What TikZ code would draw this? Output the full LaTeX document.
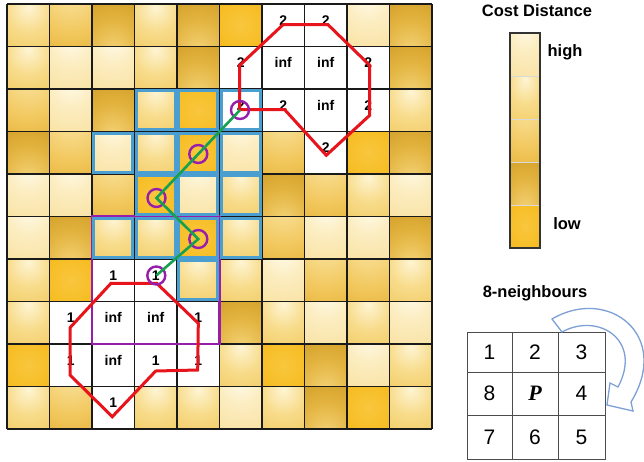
\documentclass[tikz,border=0pt]{standalone}
\usepackage{fontspec}
\setmainfont{Liberation Sans}
\newfontfamily\pserif{Liberation Serif}
\definecolor{aA}{HTML}{FFFBEB}\definecolor{aB}{HTML}{FCEDC0}\definecolor{aC}{HTML}{F5D683}
\definecolor{bA}{HTML}{FEF5D4}\definecolor{bB}{HTML}{F8DC8C}\definecolor{bC}{HTML}{ECBD40}
\definecolor{cA}{HTML}{FAE6A6}\definecolor{cB}{HTML}{F2C85E}\definecolor{cC}{HTML}{D99E15}
\definecolor{dA}{HTML}{F5D47A}\definecolor{dB}{HTML}{E3B440}\definecolor{dC}{HTML}{C38F16}
\definecolor{eA}{HTML}{F9C73E}\definecolor{eB}{HTML}{F5B91A}\definecolor{eC}{HTML}{EDAC0E}
\definecolor{gridc}{HTML}{1A1A1A}
\definecolor{bluec}{RGB}{74,158,208}
\definecolor{purpc}{RGB}{150,30,170}
\definecolor{redc}{RGB}{232,20,28}
\definecolor{greenc}{RGB}{22,160,80}
\definecolor{arrc}{RGB}{125,160,214}
\pgfdeclareradialshading{shA}{\pgfpoint{0bp}{35bp}}{color(0bp)=(aA); color(25bp)=(aB); color(85bp)=(aC); color(120bp)=(aC)}
\pgfdeclareradialshading{shB}{\pgfpoint{0bp}{22bp}}{color(0bp)=(bA); color(25bp)=(bB); color(75bp)=(bC); color(120bp)=(bC)}
\pgfdeclareradialshading{shC}{\pgfpoint{0bp}{45bp}}{color(0bp)=(cA); color(40bp)=(cB); color(90bp)=(cC); color(130bp)=(cC)}
\pgfdeclareradialshading{shD}{\pgfpoint{0bp}{-32bp}}{color(0bp)=(dA); color(30bp)=(dB); color(75bp)=(dC); color(120bp)=(dC)}
\pgfdeclareradialshading{shE}{\pgfpoint{0bp}{0bp}}{color(0bp)=(eA); color(40bp)=(eB); color(70bp)=(eC); color(110bp)=(eC)}
\begin{document}
\begin{tikzpicture}[x=1pt,y=-1pt,
  cellA/.style={shade,shading=shA},
  cellB/.style={shade,shading=shB},
  cellC/.style={shade,shading=shC},
  cellD/.style={shade,shading=shD},
  cellE/.style={shade,shading=shE},
  cellW/.style={fill=white},
  gridline/.style={draw=gridc,line width=1.4pt},
  cellnum/.style={font=\fontsize{14}{16}\selectfont\bfseries,inner sep=0pt},
  bluebox/.style={draw=bluec,line width=3pt},
  purpbox/.style={draw=purpc,line width=2.5pt},
  redpoly/.style={draw=redc,line width=3pt,line join=miter},
  pathpt/.style={circle,draw=purpc,line width=2.4pt,minimum size=18pt,inner sep=0pt},
  greenpath/.style={draw=greenc,line width=2.6pt},
  legtext/.style={font=\fontsize{16.5}{18}\selectfont\bfseries,inner sep=0pt},
  nbnum/.style={font=\fontsize{21}{23}\selectfont,inner sep=0pt},
  nbline/.style={draw=black!70,line width=1pt},
  curvarrow/.style={draw=arrc,line width=1.3pt,line join=miter}
]
\useasboundingbox (0,0) rectangle (644,461);
\fill[white] (0,0) rectangle (644,461);
% cells
\foreach \r/\lst in {0/{B,C,D,B,D,E,W,W,A,D},1/{B,A,A,B,D,W,W,W,W,D},2/{C,A,D,B,E,W,W,W,W,B},3/{D,C,A,B,E,A,C,W,E,D},4/{A,A,C,E,A,B,D,C,B,A},5/{A,D,B,B,E,B,C,A,A,D},6/{B,E,W,W,B,B,A,C,C,B},7/{B,W,W,W,W,D,B,A,B,A},8/{E,W,W,W,W,B,E,D,A,B},9/{B,C,W,B,B,A,B,D,E,B}}{
  \foreach \t [count=\ci from 0] in \lst {
    \path[cell\t] ({7+42.5*\ci},{4+42.5*\r}) rectangle ++(42.5,42.5);
  }
}
% grid
\foreach \i in {0,...,10}{
  \draw[gridline] ({7+42.5*\i},4) -- ({7+42.5*\i},429);
  \draw[gridline] (7,{4+42.5*\i}) -- (432,{4+42.5*\i});
}
% numbers
\foreach \r/\ci/\txt [count=\k] in {0/6/2,0/7/2,1/5/2,1/6/inf,1/7/inf,1/8/2,2/5/2,2/6/2,2/7/inf,2/8/2,3/7/2,6/2/1,6/3/1,7/1/1,7/2/inf,7/3/inf,7/4/1,8/1/1,8/2/inf,8/3/1,8/4/1,9/2/1}{
  \node[cellnum] (t\k) at ({28.25+42.5*\ci},{25.25+42.5*\r-5}) {\txt};
}
% purple window
\draw[purpbox] (92,216.5) rectangle (219.5,344);
% blue windows
\foreach \r/\ci in {2/3,2/4,2/5,3/2,3/3,3/4,3/5,4/3,4/4,4/5,5/2,5/3,5/4,5/5,6/4}{
  \draw[bluebox] ({7+42.5*\ci+1.6},{4+42.5*\r+1.6}) rectangle ++(39.3,39.3);
}
% red polygons
\draw[redpoly] (283,24.7) -- (328,24.7) -- (369.7,65.3) -- (369.7,115.3) -- (326.3,155.3) -- (284.7,109.7) -- (239.7,109.7) -- (239.7,65.3) -- cycle;
\draw[redpoly] (111,283.3) -- (156.7,283.3) -- (198.3,323.3) -- (197.7,370) -- (155.7,371) -- (112.3,416.7) -- (70,375) -- (70,327.7) -- cycle;
% path points
\node[pathpt] (p1) at (156.3,275.5) {};
\node[pathpt] (p2) at (198.3,239) {};
\node[pathpt] (p3) at (156.5,198) {};
\node[pathpt] (p4) at (198.3,154) {};
\node[pathpt] (p5) at (240,110) {};
\draw[greenpath] (p1.center) -- (p2.center) -- (p3.center) -- (p4.center) -- (p5.center);
% legend
\node[legtext] (cd) at (537,11) {Cost Distance};
\foreach \k/\s in {0/A,1/B,2/C,3/D,4/E}{
  \path[cell\s] (510,{33+43*\k}) rectangle ++(30,43);
}
\foreach \k in {1,...,4}{
  \draw[black!15,line width=0.6pt] (510,{33+43*\k}) -- (540,{33+43*\k});
}
\draw[draw=black!80,line width=1.5pt] (510,33) rectangle (540,248);
\node[legtext] (hi) at (565,52) {high};
\node[legtext] (lo) at (567,224) {low};
% 8-neighbours
\node[legtext] (nbt) at (535,293) {8-neighbours};
\draw[nbline] (467,332) rectangle (605,459);
\draw[nbline] (512,332) -- (512,459);
\draw[nbline] (558,332) -- (558,459);
\draw[nbline] (467,372) -- (605,372);
\draw[nbline] (467,415) -- (605,415);
\node[nbnum] (n1) at (489.5,352) {1};
\node[nbnum] (n2) at (535,352) {2};
\node[nbnum] (n3) at (581.5,352) {3};
\node[nbnum] (n8) at (489.5,393.5) {8};
\node[nbnum,font=\fontsize{22}{24}\selectfont\pserif\bfseries\itshape] (nP) at (535,393.5) {P};
\node[nbnum] (n4) at (581.5,393.5) {4};
\node[nbnum] (n7) at (489.5,437) {7};
\node[nbnum] (n6) at (535,437) {6};
\node[nbnum] (n5) at (581.5,437) {5};
% curved block arrow
\draw[curvarrow] (552,319) .. controls (608,286) and (672,335) .. (631,402)
  -- (633,411) -- (607,405) -- (610,383) -- (618,387)
  .. controls (643,340) and (598,312) .. (562,332) -- cycle;
\end{tikzpicture}
\end{document}
